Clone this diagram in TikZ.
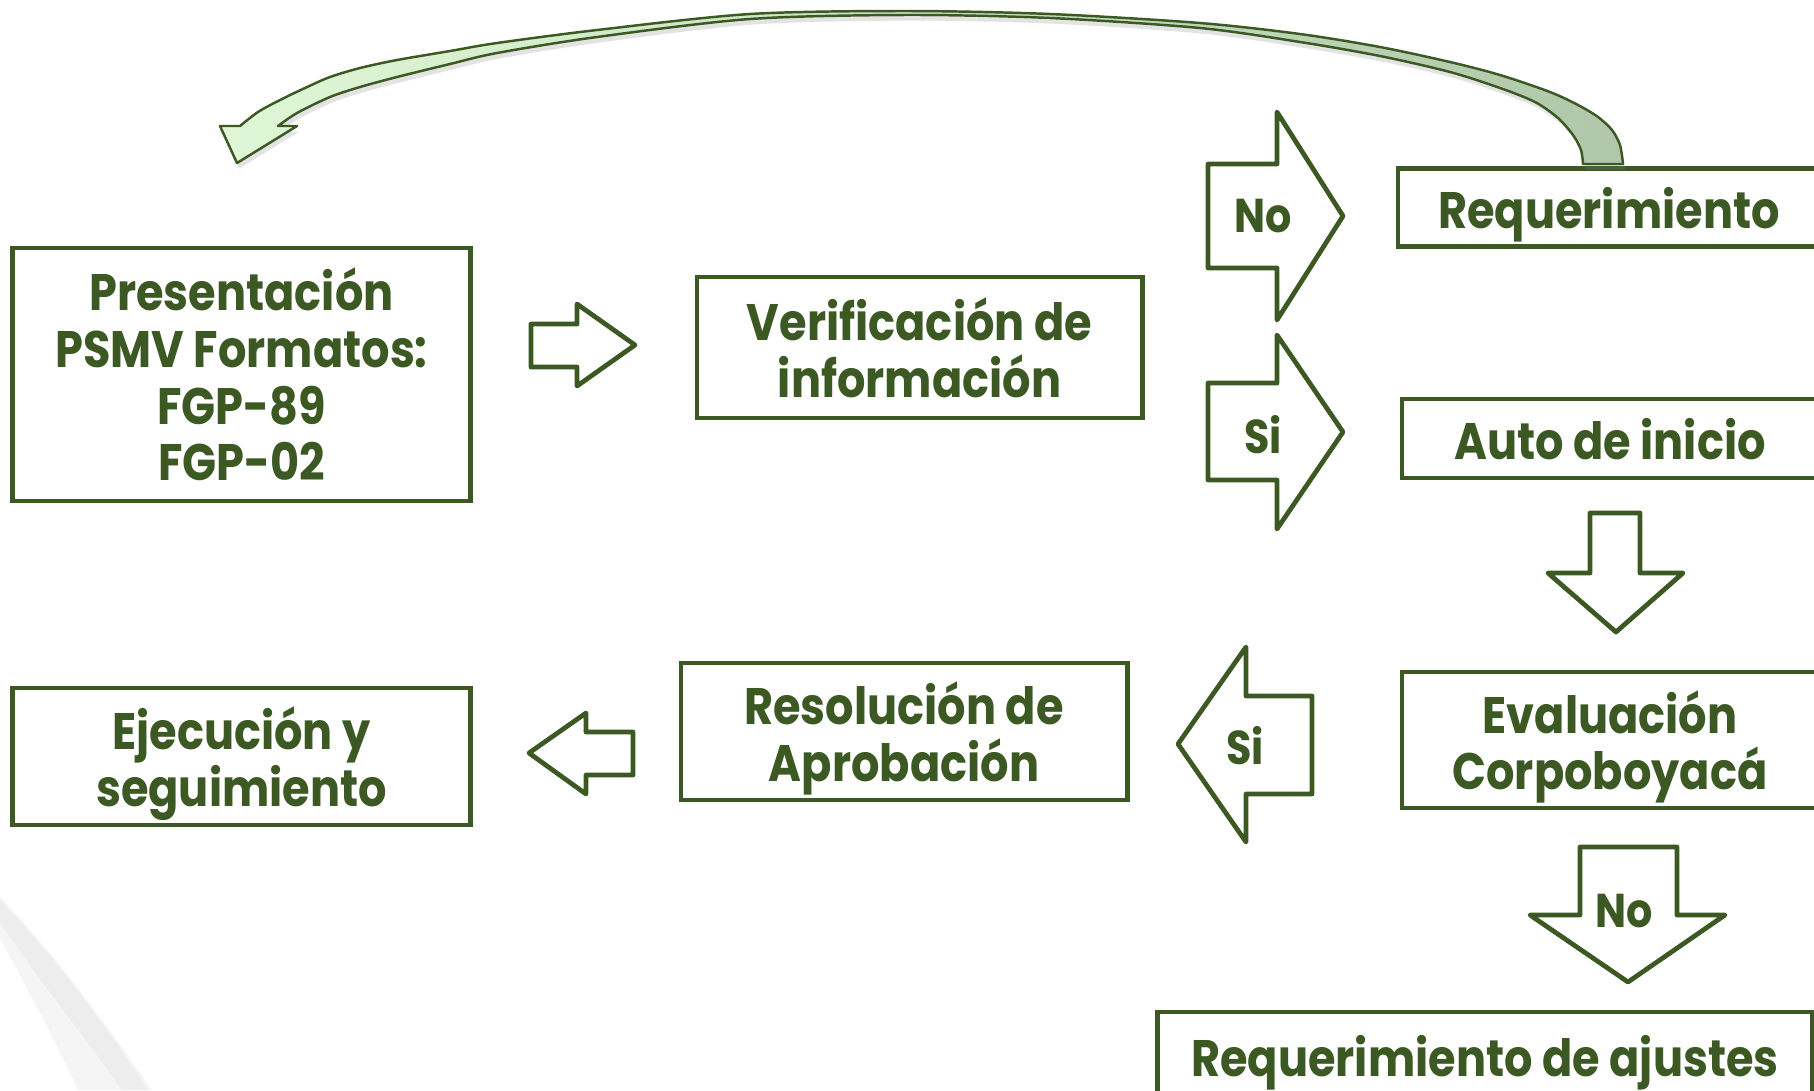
\documentclass[tikz,border=0pt]{standalone}
\usepackage{fontspec}
\setmainfont{Poppins}[FakeStretch=0.87]
\usetikzlibrary{shadows}

\definecolor{leafgreen}{RGB}{60,88,35}
\definecolor{paleleaf}{RGB}{224,247,215}
\definecolor{sageleaf}{RGB}{176,199,170}

\begin{document}
\begin{tikzpicture}[x=0.01cm,y=-0.01cm,
    box/.style={draw=leafgreen,line width=1.35pt,text=leafgreen,align=center,inner sep=0pt,
        text depth=0pt,font=\bfseries\fontsize{14.6}{16.1}\selectfont},
    blockarrow/.style={draw=leafgreen,line width=1.35pt,line join=round,fill=white},
    tag/.style={text=leafgreen,inner sep=0pt,font=\bfseries\fontsize{13.5}{15}\selectfont}]
        \clip (0,0) rectangle (1814,1090);
        \fill[white] (0,0) rectangle (1814,1090);

        % swoosh of the slide background
        \fill[black!4] (0,897) .. controls (60,960) and (110,1030) .. (152,1090)
            -- (78,1090) .. controls (50,1030) and (20,975) .. (0,938) -- cycle;
        \fill[black!7] (0,900) .. controls (60,962) and (108,1030) .. (148,1090)
            -- (122,1090) .. controls (84,1035) and (42,985) .. (0,922) -- cycle;

        % boxes
        \node[box,minimum width=4.57cm,minimum height=2.53cm] at (241.5,374.5) (pres)
            {Presentación\\PSMV Formatos:\\FGP-89\\FGP-02};
        \node[box,minimum width=4.45cm,minimum height=1.41cm] at (919.5,347.5) (verif)
            {Verificación de\\información};
        \node[box,minimum width=4.22cm,minimum height=0.78cm] at (1609,207.5) (req) {Requerimiento};
        \node[box,minimum width=4.16cm,minimum height=0.79cm] at (1610,438.5) (auto) {Auto de inicio};
        \node[box,minimum width=4.16cm,minimum height=1.36cm] at (1610,740) (eval)
            {Evaluación\\Corpoboyacá};
        \node[box,minimum width=4.46cm,minimum height=1.37cm] at (904,731.5) (resol)
            {Resolución de\\Aprobación};
        \node[box,minimum width=4.57cm,minimum height=1.37cm] at (241.5,756.5) (ejec)
            {Ejecución y\\seguimiento};
        \node[box,minimum width=6.54cm,minimum height=0.88cm] at (1485,1056) (ajust)
            {Requerimiento de ajustes};

        % block arrows
        \draw[blockarrow] (531,324) -- (577,324) -- (577,304) -- (635,345) -- (577,386)
            -- (577,367) -- (531,367) -- cycle;
        \draw[blockarrow] (1208,164) -- (1277,164) -- (1277,112) -- (1343,216) -- (1277,320)
            -- (1277,268) -- (1208,268) -- cycle;
        \draw[blockarrow] (1208,383) -- (1277,383) -- (1277,335) -- (1343,432) -- (1277,529)
            -- (1277,480) -- (1208,480) -- cycle;
        \draw[blockarrow] (1590,513) -- (1640,513) -- (1640,573) -- (1683,573) -- (1616,632)
            -- (1548,573) -- (1590,573) -- cycle;
        \draw[blockarrow] (1312,696) -- (1312,794) -- (1246,794) -- (1246,842) -- (1178,744)
            -- (1246,647) -- (1246,696) -- cycle;
        \draw[blockarrow] (633,732) -- (633,775) -- (586,775) -- (586,794) -- (529,753)
            -- (586,713) -- (586,732) -- cycle;
        \draw[blockarrow] (1580,847) -- (1677,847) -- (1677,915) -- (1725,915) -- (1628,982)
            -- (1530,915) -- (1580,915) -- cycle;

        \node[tag] at (1263,216) (no1) {No};
        \node[tag] at (1263,435) (si1) {Si};
        \node[tag] at (1245,746) (si2) {Si};
        \node[tag] at (1624,911) (no2) {No};

        % return arrow from Requerimiento
        \path[draw=leafgreen,line width=0.7pt,line join=round,left color=paleleaf,right color=sageleaf,
            drop shadow={shadow xshift=0.6pt,shadow yshift=-1.6pt,opacity=0.22}]
            (220,126) -- (237,163) -- (297,126) -- (278,126)
            -- plot[smooth,tension=0.5] coordinates {(278,126) (297,113) (330,97) (360,87) (397,77)
                (450,64) (497,53) (597,37) (750,19) (906,15) (1050,18) (1200,28) (1300,42) (1380,56)
                (1450,72) (1500,88) (1535,102) (1558,118) (1573,135) (1581,150) (1583,164)}
            -- (1623,164)
            -- plot[smooth,tension=0.5] coordinates {(1623,164) (1620,145) (1612,130) (1598,117)
                (1578,105) (1550,92) (1500,75) (1450,62) (1380,47) (1300,34) (1200,23) (1050,14)
                (906,11) (750,14) (597,30) (497,43) (450,51) (397,60) (360,68) (330,77) (305,88)
                (280,100) (258,112) (240,126)}
            -- cycle;
\end{tikzpicture}
\end{document}
